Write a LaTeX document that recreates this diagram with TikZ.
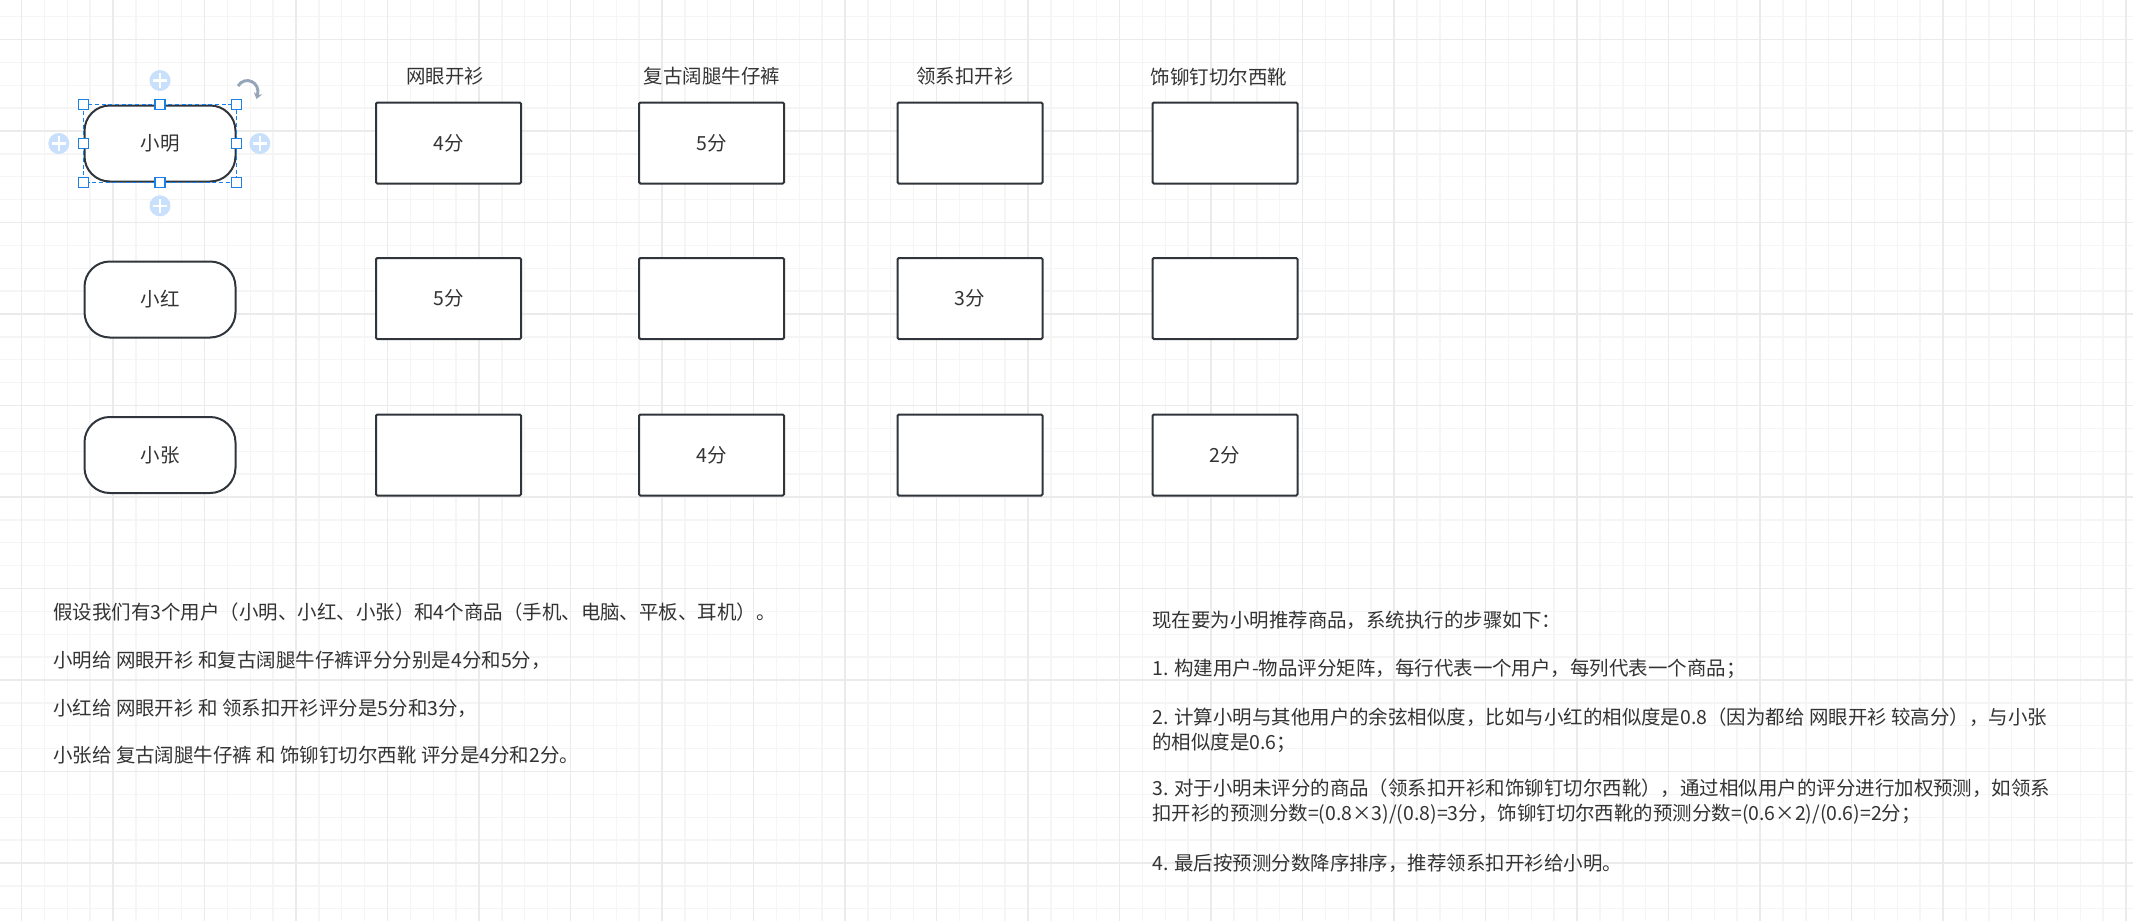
\documentclass[tikz,border=0pt]{standalone}
\usepackage{fontspec}
\setmainfont{Noto Sans CJK SC}
\usetikzlibrary{arrows.meta}
\definecolor{gridminor}{HTML}{F5F5F5}
\definecolor{gridmajor}{HTML}{EBEBEB}
\definecolor{boxline}{HTML}{2F353B}
\definecolor{txt}{HTML}{333333}
\definecolor{sel}{HTML}{1A7FE8}
\definecolor{plusc}{HTML}{C8E0FB}
\definecolor{rotc}{HTML}{97A5B8}
\tikzset{
  user/.style={draw=boxline,line width=1.5pt,fill=white,rounded corners=19pt,minimum width=113.25pt,minimum height=57pt,inner sep=0pt},
  item/.style={draw=boxline,line width=1.5pt,fill=white,rounded corners=1pt,minimum width=108.75pt,minimum height=60.75pt,inner sep=0pt},
  head/.style={anchor=base,inner sep=0pt},
  txtline/.style={anchor=base west,inner sep=0pt},
  handle/.style={draw=sel,fill=white,line width=0.8pt,minimum size=7.5pt,inner sep=0pt},
  plus/.style={circle,fill=plusc,minimum size=15.75pt,inner sep=0pt,
    path picture={\draw[white,line width=1.6pt] ([yshift=-2.6pt]path picture bounding box.north)--([yshift=2.6pt]path picture bounding box.south) ([xshift=2.6pt]path picture bounding box.west)--([xshift=-2.6pt]path picture bounding box.east);}}
}
\begin{document}
\begin{tikzpicture}[x=0.75pt,y=-0.75pt,font=\fontsize{14.6pt}{18pt}\selectfont,text=txt]
\useasboundingbox (0,0) rectangle (2133,921);
\fill[white] (0,0) rectangle (2133,921);
\foreach \i in {0,...,94} \draw[gridminor,line width=1.1pt] ({-1.375+\i*22.875},0) -- ++(0,921);
\foreach \j in {0,...,41} \draw[gridminor,line width=1.1pt] (0,{-6.25+\j*22.875}) -- ++(2133,0);
\foreach \i in {0,...,23} \draw[gridmajor,line width=1.2pt] ({21.5+\i*91.5},0) -- ++(0,921);
\foreach \j in {0,...,9} \draw[gridmajor,line width=1.2pt] (0,{39.5+\j*91.5}) -- ++(2133,0);

\node[head] (c1) at (445,83) {网眼开衫};
\node[head] (c2) at (712,83) {复古阔腿牛仔裤};
\node[head] (c3) at (965,83) {领系扣开衫};
\node[head] (c4) at (1219,84) {饰铆钉切尔西靴};

\node[user] (u1) at (160,143.5) {小明};
\node[user] (u2) at (160,299.5) {小红};
\node[user] (u3) at (160,455) {小张};

\node[item] (r11) at (448.5,143) {4分};
\node[item] (r12) at (711.5,143) {5分};
\node[item] (r13) at (970,143) {};
\node[item] (r14) at (1225,143) {};
\node[item] (r21) at (448.5,298.5) {5分};
\node[item] (r22) at (711.5,298.5) {};
\node[item] (r23) at (970,298.5) {3分};
\node[item] (r24) at (1225,298.5) {};
\node[item] (r31) at (448.5,455) {};
\node[item] (r32) at (711.5,455) {4分};
\node[item] (r33) at (970,455) {};
\node[item] (r34) at (1225,455) {2分};

\draw[sel,line width=0.8pt,dash pattern=on 3pt off 2pt] (u1.north west) rectangle (u1.south east);
\foreach \a [count=\k] in {north west,north,north east,west,east,south west,south,south east}
  \node[handle] (h\k) at (u1.\a) {};
\node[plus] (p1) at ([yshift=18pt]u1.north) {};
\node[plus] (p2) at ([yshift=-17.5pt]u1.south) {};
\node[plus] (p3) at ([xshift=-18.5pt]u1.west) {};
\node[plus] (p4) at ([xshift=17.5pt]u1.east) {};
\draw[rotc,line width=2.2pt,-{Stealth[length=4.5pt,width=6.5pt]}] (238,86) .. controls (245,75) and (261,82) .. (256.5,99);

\node[txtline] (l1) at (53,619) {假设我们有3个用户（小明、小红、小张）和4个商品（手机、电脑、平板、耳机）。};
\node[txtline] (l2) at (53,667) {小明给 网眼开衫 和复古阔腿牛仔裤评分分别是4分和5分，};
\node[txtline] (l3) at (53,715) {小红给 网眼开衫 和 领系扣开衫评分是5分和3分，};
\node[txtline] (l4) at (53,762) {小张给 复古阔腿牛仔裤 和 饰铆钉切尔西靴 评分是4分和2分。};

\node[txtline] (s1) at (1152,627) {现在要为小明推荐商品，系统执行的步骤如下：};
\node[txtline] (s2) at (1152,675) {1. 构建用户-物品评分矩阵，每行代表一个用户，每列代表一个商品；};
\node[txtline] (s3) at (1152,724) {2. 计算小明与其他用户的余弦相似度，比如与小红的相似度是0.8（因为都给 网眼开衫 较高分），与小张};
\node[txtline] (s4) at (1152,749) {的相似度是0.6；};
\node[txtline] (s5) at (1152,795) {3. 对于小明未评分的商品（领系扣开衫和饰铆钉切尔西靴），通过相似用户的评分进行加权预测，如领系};
\node[txtline] (s6) at (1152,820) {扣开衫的预测分数=(0.8×3)/(0.8)=3分，饰铆钉切尔西靴的预测分数=(0.6×2)/(0.6)=2分；};
\node[txtline] (s7) at (1152,870) {4. 最后按预测分数降序排序，推荐领系扣开衫给小明。};
\end{tikzpicture}
\end{document}
